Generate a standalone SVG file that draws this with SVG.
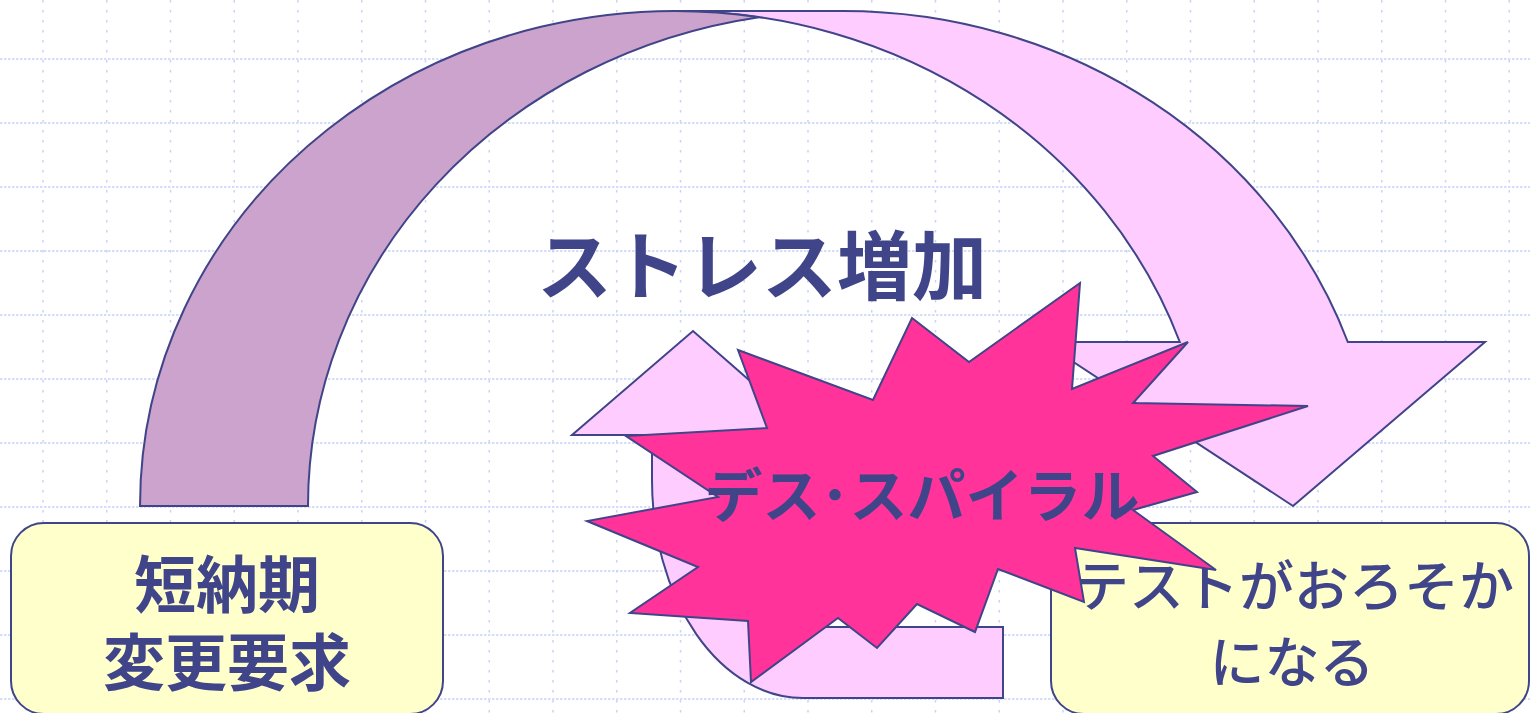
<svg xmlns="http://www.w3.org/2000/svg" width="1530" height="713" viewBox="0 0 1530 713">
<style>
.gh{stroke:#c8d4f6;stroke-width:1.5;stroke-dasharray:2.5 1.5;fill:none}
.gv{stroke:#c8d4f6;stroke-width:1.5;stroke-dasharray:2.5 7.5;fill:none}
.ol{stroke:#404589;stroke-width:2;stroke-linejoin:miter}
.pink{fill:#ffccff}
.mauve{fill:#cca3cc}
.star{fill:#ff3399}
.box{fill:#ffffcc;stroke:#404589;stroke-width:2}
.t{font-family:"Noto Sans CJK JP","Noto Sans CJK SC",sans-serif;fill:#404589;text-anchor:middle}
.b{font-weight:700}
.m{font-weight:500}
</style>
<rect x="0" y="0" width="1530" height="713" fill="#ffffff"/>
<g id="grid">
<path class="gh" d="M0 59H1530M0 123H1530M0 187H1530M0 251H1530M0 315H1530M0 379H1530M0 443H1530M0 507H1530M0 571H1530M0 635H1530M0 699H1530"/>
<path class="gv" d="M43 0V713M106.75 0V713M170.5 0V713M234.25 0V713M298 0V713M361.75 0V713M425.5 0V713M489.25 0V713M553 0V713M616.75 0V713M680.5 0V713M744.25 0V713M808 0V713M871.75 0V713M935.5 0V713M999.25 0V713M1063 0V713M1126.75 0V713M1190.5 0V713M1254.25 0V713M1318 0V713M1381.75 0V713M1445.5 0V713M1509.25 0V713"/>
</g>
<g id="connectors">
<g id="stress-arrow">
<path class="pink ol" d="M1293 506 L1043 342 L1179.8 342 A535 495 0 0 0 675 11 L843 11 A535 495 0 0 1 1347.8 342 L1485 342 Z"/>
<path class="mauve ol" d="M140 506 A535 495 0 0 1 759 17.14 A535 495 0 0 0 308 506 Z"/>
</g>
<g id="spiral-arrow">
<path class="pink ol" d="M1003 627 L803 627 A80 147 0 0 1 723 480 L723 435 L812 435 L693 331 L572 435 L652 435 L652 480 A151 218 0 0 0 803 698 L1003 698 Z"/>
</g>
</g>
<text id="stress-label" class="t b" x="762" y="294" font-size="75">ストレス増加</text>
<g id="node-left">
<rect class="box" x="11" y="523" width="432" height="191" rx="33" ry="33"/>
<text class="t b" font-size="62"><tspan x="227" y="608">短納期</tspan><tspan x="227" y="686">変更要求</tspan></text>
</g>
<g id="node-right">
<rect class="box" x="1051" y="523" width="478" height="191" rx="33" ry="33"/>
<text class="t m" font-size="55"><tspan x="1294" y="606">テストがおろそか</tspan><tspan x="1292" y="682">になる</tspan></text>
</g>
<g id="node-star">
<polygon class="star ol" points="1080,283 969,362 912,318 873,400 738,350 767,428 626,436 718,497 587,521 698,567 630,613 748,621 751,682 838,618 877,648 917,604 975,632 998,569 1084,602 1075,548 1216,570 1133,510 1197,492 1153,456 1308,406 1133,403 1188,342 1072,389"/>
<text class="t b" x="922" y="517" font-size="58">デス･スパイラル</text>
</g>
</svg>
